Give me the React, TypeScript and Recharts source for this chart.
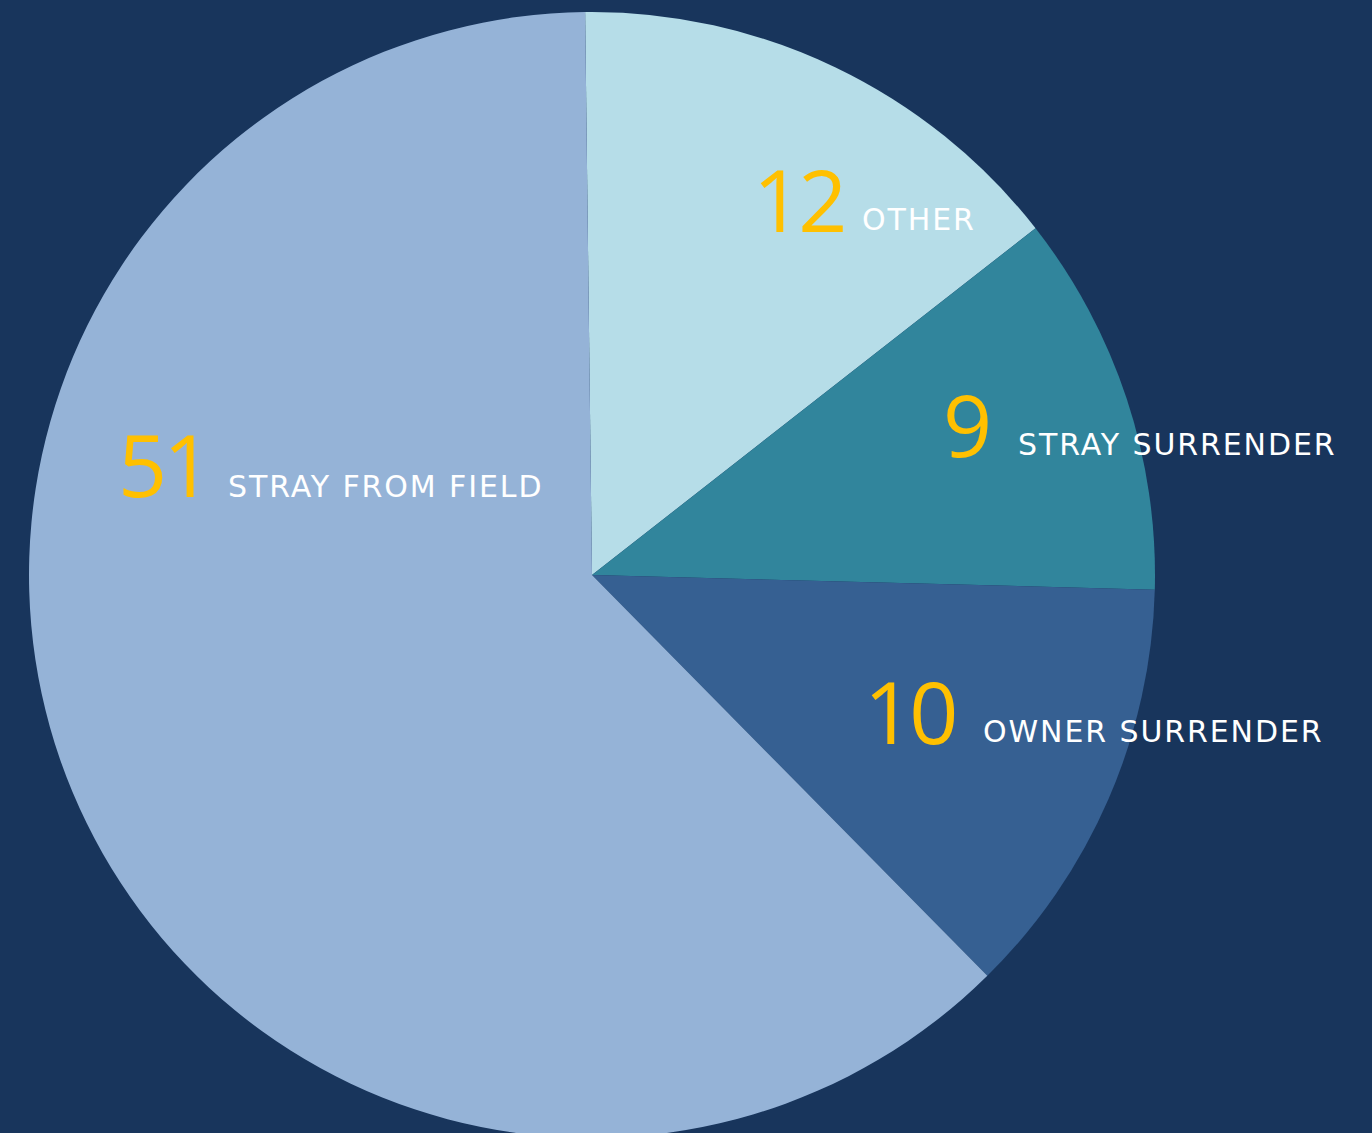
import React from "react";
import { PieChart, Pie, Cell } from "recharts";

const categories = ["OTHER", "STRAY SURRENDER", "OWNER SURRENDER", "STRAY FROM FIELD"];
const counts = [12, 9, 10, 51];
const colors = ["#b6dde8", "#31859c", "#366092", "#95b3d7"];

// label anchors relative to the pie centre: [number x, number baseline, name x, name baseline]
const labelOffsets = [
  [161, -343, 270, -345],
  [351, -118, 426, -120],
  [272, 169, 391, 167],
  [-474, -78, -364, -78],
];

const data = categories.map((name, i) => ({ name, value: counts[i] }));

if (typeof document !== "undefined") {
  document.body.style.margin = "0";
}

const NUM_FONT = "'Open Sans', sans-serif";
const NAME_FONT = "'DejaVu Sans', sans-serif";

function renderLabel(props: any) {
  const { cx, cy, index, value, name } = props;
  const [nx, ny, tx, ty] = labelOffsets[index];
  return (
    <g>
      <text
        x={cx + nx}
        y={cy + ny}
        fontFamily={NUM_FONT}
        fontSize={86}
        fontWeight={500}
        letterSpacing={-4}
        fill="#ffc000"
      >
        {value}
      </text>
      <text x={cx + tx} y={cy + ty} fontFamily={NAME_FONT} fontSize={30} fill="#ffffff" letterSpacing={1.9}>
        {name}
      </text>
    </g>
  );
}

export default function App() {
  return (
    <div style={{ width: 1372, height: 1133, background: "#18355c", overflow: "hidden" }}>
      <PieChart width={1372} height={1133} margin={{ top: 0, right: 0, bottom: 0, left: 0 }}>
        <Pie
          data={data}
          dataKey="value"
          nameKey="name"
          cx={592}
          cy={575}
          outerRadius={563}
          startAngle={90.7}
          endAngle={-269.3}
          stroke="none"
          label={renderLabel}
          labelLine={false}
          isAnimationActive={false}
        >
          {data.map((d, i) => (
            <Cell key={d.name} fill={colors[i]} />
          ))}
        </Pie>
      </PieChart>
    </div>
  );
}
